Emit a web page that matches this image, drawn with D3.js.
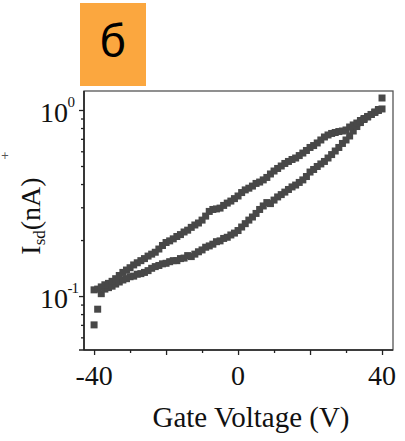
<!DOCTYPE html>
<html>
<head>
<meta charset="utf-8">
<script src="https://cdn.jsdelivr.net/npm/d3@7"></script>
<style>
  html, body { margin: 0; padding: 0; background: #ffffff; }
  svg { display: block; }
</style>
</head>
<body>
<svg id="chart" width="405" height="441"></svg>
<script>
// Gate voltage sweep points (V)
const gateVoltage = [
  -40, -39, -38, -37, -36, -35, -34, -33, -32, -31,
  -30, -29, -28, -27, -26, -25, -24, -23, -22, -21,
  -20, -19, -18, -17, -16, -15, -14, -13, -12, -11,
  -10, -9, -8, -7, -6, -5, -4, -3, -2, -1,
  0, 1, 2, 3, 4, 5, 6, 7, 8, 9,
  10, 11, 12, 13, 14, 15, 16, 17, 18, 19,
  20, 21, 22, 23, 24, 25, 26, 27, 28, 29,
  30, 31, 32, 33, 34, 35, 36, 37, 38, 39,
  40
];

// Source-drain current (nA), forward sweep -40 V -> +40 V (lower branch)
const currentForward = [
  0.070, 0.085, 0.103, 0.109, 0.111, 0.113, 0.116, 0.119, 0.122, 0.124,
  0.127, 0.128, 0.131, 0.132, 0.134, 0.137, 0.141, 0.144, 0.146, 0.149,
  0.150, 0.153, 0.155, 0.155, 0.159, 0.160, 0.165, 0.163, 0.168, 0.173,
  0.177, 0.183, 0.186, 0.190, 0.196, 0.198, 0.204, 0.207, 0.213, 0.218,
  0.225, 0.235, 0.245, 0.256, 0.266, 0.278, 0.292, 0.305, 0.318, 0.314,
  0.328, 0.341, 0.351, 0.362, 0.374, 0.386, 0.395, 0.408, 0.421, 0.439,
  0.464, 0.479, 0.497, 0.513, 0.529, 0.552, 0.576, 0.602, 0.629, 0.661,
  0.690, 0.725, 0.771, 0.815, 0.856, 0.889, 0.917, 0.946, 0.976, 1.006,
  1.16
];

// Source-drain current (nA), reverse sweep, listed by the same voltages (upper branch)
const currentReverse = [
  0.108, 0.109, 0.112, 0.115, 0.117, 0.120, 0.124, 0.129, 0.134, 0.138,
  0.142, 0.147, 0.151, 0.155, 0.159, 0.164, 0.168, 0.172, 0.179, 0.187,
  0.194, 0.198, 0.203, 0.209, 0.214, 0.221, 0.226, 0.234, 0.241, 0.247,
  0.256, 0.269, 0.285, 0.292, 0.294, 0.297, 0.307, 0.316, 0.324, 0.334,
  0.345, 0.360, 0.372, 0.380, 0.390, 0.403, 0.410, 0.421, 0.434, 0.453,
  0.470, 0.485, 0.500, 0.516, 0.529, 0.542, 0.552, 0.569, 0.587, 0.606,
  0.629, 0.644, 0.665, 0.690, 0.716, 0.734, 0.748, 0.757, 0.766, 0.771,
  0.781, 0.810, 0.831, 0.851, 0.878, 0.900, 0.923, 0.946, 0.970, 0.994,
  1.013
];

// Axis ticks
const xMajorTicks = [-40, -20, 0, 20, 40];
const xMinorTicks = [-30, -10, 10, 30];
const xTickLabels = ["-40", "0", "40"];
const xLabelValues = [-40, 0, 40];
const yDecadeTicks = [1, 0.1];
const yDecadeExponents = ["0", "-1"];

const panelLetter = "б";
const xTitle = "Gate Voltage (V)";

const svg = d3.select("#chart");
const serif = "'Liberation Serif', 'Times New Roman', serif";

const plot = { left: 84, right: 393, top: 91, bottom: 350 };

const x = d3.scaleLinear().domain([-42.8, 43.05]).range([plot.left, plot.right]);
const y = d3.scaleLog().domain([0.0513, 1.265]).range([plot.bottom, plot.top]);

// Panel letter badge
svg.append("rect")
  .attr("x", 80).attr("y", 3).attr("width", 66).attr("height", 83)
  .attr("fill", "#fba73f");
svg.append("text")
  .attr("x", 113).attr("y", 57)
  .attr("text-anchor", "middle")
  .attr("font-family", "'Noto Sans', 'DejaVu Sans', sans-serif")
  .attr("font-size", 44)
  .attr("fill", "#000")
  .text(panelLetter);

// Small plus sign at the far left
svg.append("text")
  .attr("x", 5).attr("y", 159)
  .attr("text-anchor", "middle")
  .attr("font-family", "'DejaVu Sans', sans-serif")
  .attr("font-size", 10)
  .attr("fill", "#555")
  .text("+");

// Plot frame (top and right edges)
svg.append("rect")
  .attr("x", plot.left).attr("y", plot.top)
  .attr("width", plot.right - plot.left).attr("height", plot.bottom - plot.top)
  .attr("fill", "none").attr("stroke", "#555").attr("stroke-width", 1.3);

// Data markers
const markerSize = 7;
const sweeps = [currentForward, currentReverse];
const g = svg.append("g");
sweeps.forEach(series => {
  g.selectAll(null)
    .data(series.map((v, i) => [gateVoltage[i], v]))
    .join("rect")
    .attr("x", d => x(d[0]) - markerSize / 2)
    .attr("y", d => y(d[1]) - markerSize / 2)
    .attr("width", markerSize).attr("height", markerSize)
    .attr("fill", "#484848");
});

// Bottom axis
const xAxisG = svg.append("g").attr("transform", `translate(0,${plot.bottom})`);
xAxisG.append("g")
  .call(d3.axisBottom(x).tickValues(xMajorTicks).tickSize(5).tickFormat(""))
  .call(a => a.select(".domain").remove());
xAxisG.append("g")
  .call(d3.axisBottom(x).tickValues(xMinorTicks).tickSize(3).tickFormat(""))
  .call(a => a.select(".domain").remove());
xAxisG.selectAll(".tick line").attr("stroke", "#222").attr("stroke-width", 1.3);
xAxisG.append("line")
  .attr("x1", 79).attr("x2", plot.right).attr("y1", 0).attr("y2", 0)
  .attr("stroke", "#222").attr("stroke-width", 1.6);
xAxisG.selectAll(".xlabel")
  .data(xLabelValues)
  .join("text")
  .attr("class", "xlabel")
  .attr("x", d => x(d))
  .attr("y", 35)
  .attr("text-anchor", "middle")
  .attr("font-family", serif)
  .attr("font-size", 28)
  .attr("fill", "#111")
  .text((d, i) => xTickLabels[i]);

// Left axis
const yAxisG = svg.append("g").attr("transform", `translate(${plot.left},0)`);
const yMinor = y.ticks().filter(v => !yDecadeTicks.some(t => Math.abs(t - v) < 1e-9));
yAxisG.append("g")
  .call(d3.axisLeft(y).tickValues(yMinor).tickSize(3).tickFormat(""))
  .call(a => a.select(".domain").remove());
yAxisG.append("g")
  .call(d3.axisLeft(y).tickValues(yDecadeTicks).tickSize(5).tickFormat(""))
  .call(a => a.select(".domain").remove());
yAxisG.selectAll(".tick line").attr("stroke", "#222").attr("stroke-width", 1.3);
yAxisG.append("line")
  .attr("x1", 0).attr("x2", 0).attr("y1", plot.top).attr("y2", plot.bottom)
  .attr("stroke", "#222").attr("stroke-width", 1.6);

yDecadeTicks.forEach((v, i) => {
  svg.append("text")
    .attr("x", 68).attr("y", y(v) + 12)
    .attr("text-anchor", "end")
    .attr("font-family", serif)
    .attr("font-size", 28)
    .attr("fill", "#111")
    .text("10");
  svg.append("text")
    .attr("x", 67.5).attr("y", y(v) - 3)
    .attr("text-anchor", "start")
    .attr("font-family", serif)
    .attr("font-size", 15)
    .attr("letter-spacing", -1)
    .attr("fill", "#111")
    .text(yDecadeExponents[i]);
});

// Axis titles
const yTitle = svg.append("text")
  .attr("transform", "translate(40,216) rotate(-90)")
  .attr("text-anchor", "middle")
  .attr("font-family", serif)
  .attr("font-size", 28)
  .attr("fill", "#111");
yTitle.append("tspan").text("I");
yTitle.append("tspan").attr("font-size", 17).attr("dy", 5).text("sd");
yTitle.append("tspan").attr("dy", -5).text("(nA)");

svg.append("text")
  .attr("x", 251).attr("y", 427)
  .attr("text-anchor", "middle")
  .attr("font-family", serif)
  .attr("font-size", 29)
  .attr("fill", "#111")
  .text(xTitle);
</script>
</body>
</html>
